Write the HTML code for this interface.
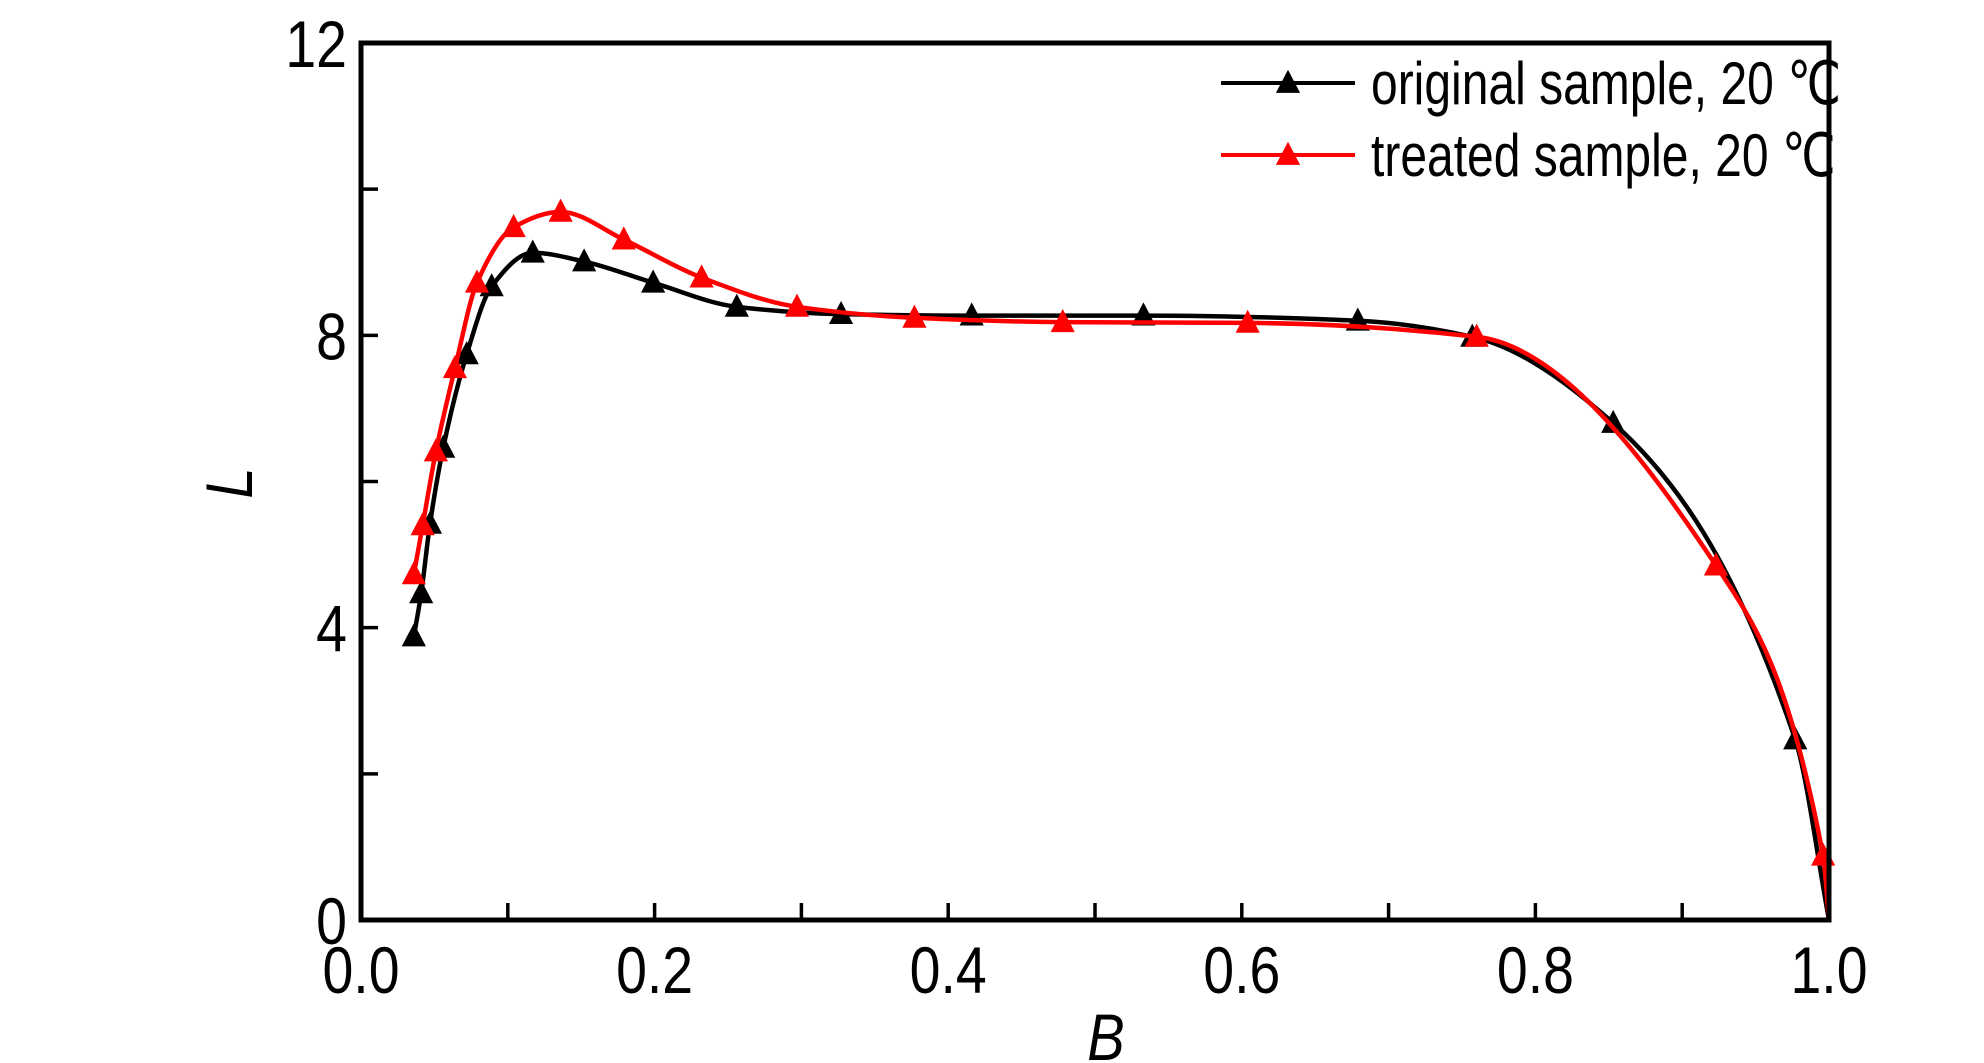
<!DOCTYPE html>
<html><head><meta charset="utf-8"><style>
html,body{margin:0;padding:0;background:#fff;}
svg{display:block;}
text{font-family:"Liberation Sans",Arial,sans-serif;fill:#000;}
</style></head><body>
<svg id="chart" width="1984" height="1063" viewBox="0 0 1984 1063" xmlns="http://www.w3.org/2000/svg">
<g id="plot"></g>
</svg>
<script>
const xTicks=[0.0,0.2,0.4,0.6,0.8,1.0];
const xTickLabels=["0.0","0.2","0.4","0.6","0.8","1.0"];
const xMinor=[0.1,0.3,0.5,0.7,0.9];
const yTicks=[0,4,8,12];
const yTickLabels=["0","4","8","12"];
const yMinor=[2,6,10];
const origB=[0.036,0.041,0.047,0.056,0.072,0.089,0.117,0.152,0.199,0.256,0.327,0.416,0.533,0.679,0.757,0.853,0.977,1.0];
const origL=[3.88,4.47,5.42,6.46,7.74,8.67,9.13,9.01,8.72,8.39,8.29,8.27,8.27,8.20,7.98,6.80,2.47,0];
const treatB=[0.036,0.042,0.051,0.064,0.079,0.104,0.136,0.179,0.232,0.297,0.377,0.478,0.604,0.760,0.923,0.996,1.0];
const treatL=[4.73,5.40,6.41,7.55,8.72,9.48,9.69,9.31,8.79,8.39,8.24,8.18,8.17,7.98,4.85,0.88,0];

const X0=361,X1=1829,Y0=920,Y1=43;
function sx(v){return X0+(v-0)/(1-0)*(X1-X0);}
function sy(v){return Y0-(v-0)/(12-0)*(Y0-Y1);}
const NS="http://www.w3.org/2000/svg";
const g=document.getElementById('plot');
function mk(tag,attrs,parent){const e=document.createElementNS(NS,tag);for(const k in attrs)e.setAttribute(k,attrs[k]);(parent||g).appendChild(e);return e;}

// monotone cubic (Fritsch-Carlson) in pixel space
function smoothPath(xs,ys){
  const px=xs.map(sx),py=ys.map(sy),n=px.length;
  const d=[],m=new Array(n);
  for(let i=0;i<n-1;i++)d.push((py[i+1]-py[i])/(px[i+1]-px[i]));
  m[0]=d[0];m[n-1]=d[n-2];
  for(let i=1;i<n-1;i++){
    if(d[i-1]*d[i]<=0)m[i]=0;
    else{const h0=px[i]-px[i-1],h1=px[i+1]-px[i];
      const w1=2*h1+h0,w2=h1+2*h0;m[i]=(w1+w2)/(w1/d[i-1]+w2/d[i]);}
  }
  let s="M"+px[0]+","+py[0];
  for(let i=0;i<n-1;i++){
    const h=(px[i+1]-px[i])/3;
    s+=" C"+(px[i]+h)+","+(py[i]+m[i]*h)+" "+(px[i+1]-h)+","+(py[i+1]-m[i+1]*h)+" "+px[i+1]+","+py[i+1];
  }
  return s;
}
function tri(cx,cy,s){return (cx)+","+(cy-s*0.6)+" "+(cx-s*0.55)+","+(cy+s*0.45)+" "+(cx+s*0.55)+","+(cy+s*0.45);}

function drawSeries(xs,ys,color,name){
  const grp=mk('g',{});
  
  
  const path=mk('path',{d:smoothPath(xs,ys),fill:'none',stroke:color,'stroke-width':4.5},grp);
  
  
  xs.forEach((x,i)=>{
    if(x>=1.0)return;
    const m=mk('polygon',{points:tri(sx(x),sy(ys[i]),22),fill:color},grp);
    
    
  });
}
drawSeries(origB,origL,'#000','original-series');
drawSeries(treatB,treatL,'#ff0000','treated-series');

const frame=mk('rect',{x:X0,y:Y1,width:X1-X0,height:Y0-Y1,fill:'none',stroke:'#000','stroke-width':5});



xTicks.concat(xMinor).forEach(v=>{
  const t=mk('line',{x1:sx(v),x2:sx(v),y1:Y0,y2:Y0-17,stroke:'#000','stroke-width':3.5});
  
  
});
yTicks.concat(yMinor).forEach(v=>{
  const t=mk('line',{x1:X0,x2:X0+17,y1:sy(v),y2:sy(v),stroke:'#000','stroke-width':3.5});
  
  
});
xTicks.forEach((v,i)=>{
  const t=mk('text',{x:0,y:0,'font-size':66,'text-anchor':'middle',transform:'translate('+sx(v)+',993) scale(0.84,1)'});
  t.textContent=xTickLabels[i];
  
  
});
yTicks.forEach((v,i)=>{
  const t=mk('text',{x:0,y:0,'font-size':66,'text-anchor':'end',transform:'translate(347,'+(sy(v)+24)+') scale(0.84,1)'});
  t.textContent=yTickLabels[i];
  
  
});
const xt=mk('text',{x:0,y:0,'font-size':66,'font-style':'italic','text-anchor':'middle',transform:'translate(1106,1060) scale(0.85,1)'});
xt.textContent='B';


const yt=mk('text',{x:0,y:0,'font-size':66,'font-style':'italic','text-anchor':'middle',transform:'translate(252,483) rotate(-90) scale(0.85,1)'});
yt.textContent='L';



const leg=mk('g',{});


[['original sample, 20 ℃','#000',83,102],['treated sample, 20 ℃','#ff0000',155,174]].forEach(e=>{
  const l=mk('line',{x1:1221,x2:1355,y1:e[2],y2:e[2],stroke:e[1],'stroke-width':4},leg);
  
  
  const m=mk('polygon',{points:tri(1288,e[2],22),fill:e[1]},leg);
  
  
  const t=mk('text',{x:0,y:0,'font-size':60,transform:'translate(1371,'+(e[3]+2)+') scale(0.8,1)'},leg);
  t.textContent=e[0];
  
  
});
</script>
</body></html>
